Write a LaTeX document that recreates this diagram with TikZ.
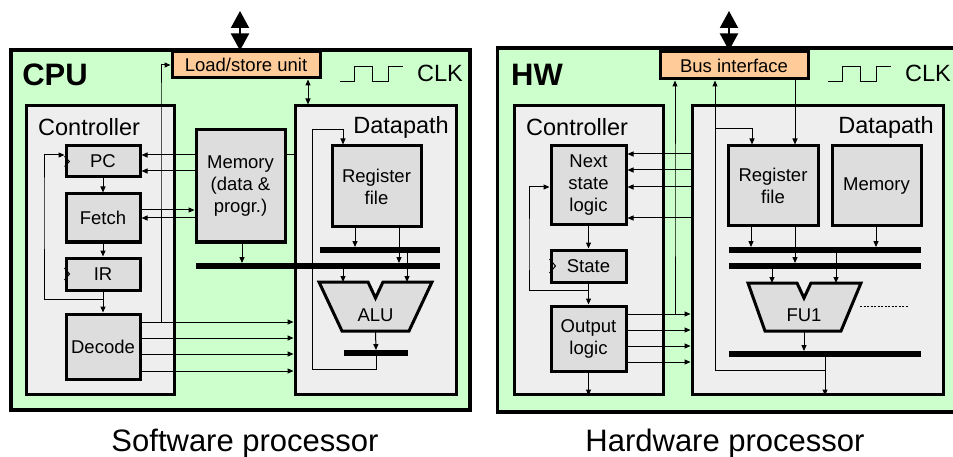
\documentclass[tikz,border=0pt]{standalone}
\usepackage{fontspec}
\setmainfont{Liberation Sans}
\usetikzlibrary{arrows.meta}
\definecolor{Mint}{HTML}{CCFFCC}
\definecolor{Panel}{HTML}{EEEEEE}
\definecolor{Block}{HTML}{DDDDDD}
\definecolor{Peach}{HTML}{FFCC99}

\begin{document}
\begin{tikzpicture}[x=1pt,y=-1pt,
wh/.style 2 args={minimum width=#1pt,minimum height=#2pt},
chip/.style={draw,line width=3.5pt,fill=Mint,inner sep=0},
part/.style={draw,line width=3pt,fill=Panel,inner sep=0},
blk/.style={draw,line width=3pt,fill=Block,align=center,inner sep=0,font=\fontsize{18.5}{22}\selectfont},
ifc/.style={draw,line width=3pt,fill=Peach,inner sep=0,font=\fontsize{18.5}{22}\selectfont},
bus/.style={fill=black,inner sep=0,minimum height=5.5pt},
hdr/.style={font=\fontsize{23.5}{26}\selectfont,inner sep=0},
chipname/.style={font=\bfseries\fontsize{31}{31}\selectfont,inner sep=0},
captext/.style={font=\fontsize{31}{31}\selectfont,inner sep=0,anchor=base},
fu/.style={draw,line width=3pt,fill=Block,line join=miter},
wire/.style={line width=1pt},
arr/.style={-{Triangle[length=6pt,width=5pt]},line width=1pt},
darr/.style={{Triangle[length=6pt,width=5pt]}-{Triangle[length=6pt,width=5pt]},line width=1pt},
ext/.style={{Triangle[length=17pt,width=18pt]}-{Triangle[length=17pt,width=18pt]},line width=2pt}]
\useasboundingbox (0,0) rectangle (953,457);

% ---- software processor
\node[chip,wh={459}{360}] (cpu) at (240.5,230) {};
\node[chipname] (cpuname) at (55,75) {CPU};
\node[ifc,wh={148}{26}] (lsu) at (246,65) {Load/store unit};
\node[hdr,anchor=west] (clk) at (417,73) {CLK};
\draw[wire] (340,82) -- ++(14,0) -- ++(0,-15) -- ++(18,0) -- ++(0,15) -- ++(16,0) -- ++(0,-15) -- ++(15,0);
\coordinate (cpuio) at (240,11);
\draw[ext] (cpuio) -- (lsu.north -| cpuio);

\node[part,wh={148}{288}] (ctrl) at (100,250) {};
\node[hdr,anchor=west] (ctrltitle) at (38,127) {Controller};
\node[part,wh={161}{288}] (dp) at (375.5,250) {};
\node[hdr,anchor=east] (dptitle) at (449,127) {Datapath};

\node[blk,wh={74}{31}] (pc) at (103,161.5) {PC};
\node[blk,wh={74}{48}] (fetch) at (103,218) {Fetch};
\node[blk,wh={74}{32}] (ir) at (103,274) {IR};
\node[blk,wh={74}{65}] (decode) at (103,346.5) {Decode};
\node[blk,wh={89}{81}] (rf) at (376.5,186.5) {Register\\file};
\draw[wire] (pc.west) ++(0,-5) -- ++(5,5) -- ++(-5,5);
\draw[wire] (ir.west) ++(0,-6) -- ++(5,6) -- ++(-5,6);

% pc input passes behind the memory
\draw[arr] (dp.west |- 0,155) -- (pc.east |- 0,155);
\node[blk,wh={89}{112}] (mem) at (240.5,186) {Memory\\(data \&\\progr.)};
\draw[arr] (mem.west |- 0,171) -- (pc.east |- 0,171);
\draw[arr] (fetch.east |- 0,210) -- (mem.west |- 0,210);
\draw[arr] (mem.west |- 0,218) -- (fetch.east |- 0,218);
\draw[arr] (pc) -- (fetch);
\draw[arr] (fetch) -- (ir);
\draw[arr] (ir) -- (decode);
\draw[arr] (ir.south) ++(0,8) -| (44,200) |- (pc.west |- 0,155);

\foreach \yy in {322,338,354,371}
  \draw[arr] (decode.east |- 0,\yy) -- (dp.west |- 0,\yy);
\draw[arr] (decode.east |- 0,322) -| (161,100) |- (lsu.west);
\draw[darr] (lsu.south -| 308,0) -- (dp.north -| 308,0);

\node[bus,minimum width=120pt] (busA) at (380,250) {};
\node[bus,minimum width=244pt] (busB) at (318,266) {};
\node[bus,minimum width=64pt] (busC) at (376,353) {};
\draw[fu] (319,282) -- (368,282) -- (375.5,298) -- (383,282) -- (432,282) -- (409,331) -- (342,331) -- cycle;
\node[blk,draw=none,fill=none] (alu) at (375.5,315) {ALU};
\coordinate (alutop) at (375.5,282);
\coordinate (alubot) at (375.5,331);

\draw[arr] (rf.south -| 355,0) -- (busA.north -| 355,0);
\draw[arr] (rf.south -| 399,0) -- (busB.north -| 399,0);
\draw[arr] (busA.south -| 407,0) -- (alutop -| 407,0);
\draw[arr] (busB.south -| 343,0) -- (alutop -| 343,0);
\draw[arr] (mem.south -| 242,0) -- (busB.north -| 242,0);
\draw[arr] (alubot) -- (busC.north);
\draw[arr] (busC.center) |- (312,369) |- (343,130) -- (rf.north -| 343,0);

% ---- hardware processor (open on the right, runs off the page)
\node[chip,draw=none,wh={470}{360}] (hw) at (734,230) {};
\draw[line width=3.5pt] (hw.north east) -| (hw.south west) -- (hw.south east);
\node[chipname] (hwname) at (537,75) {HW};
\node[ifc,wh={148}{27}] (bif) at (734,65.5) {Bus interface};
\node[hdr,anchor=west] (clk2) at (905,73) {CLK};
\draw[wire] (828,82) -- ++(14,0) -- ++(0,-15) -- ++(18,0) -- ++(0,15) -- ++(16,0) -- ++(0,-15) -- ++(15,0);
\coordinate (hwio) at (729,11);
\draw[ext] (hwio) -- (bif.north -| hwio);

\node[part,wh={149}{288}] (ctrl2) at (588.5,250) {};
\node[hdr,anchor=west] (ctrl2title) at (526,127) {Controller};
\node[part,wh={251}{288}] (dp2) at (817.5,250) {};
\node[hdr,anchor=east] (dp2title) at (934,127) {Datapath};

\node[blk,wh={75}{79}] (nsl) at (588.5,185.5) {Next\\state\\logic};
\node[blk,wh={75}{32}] (state) at (588.5,266) {State};
\node[blk,wh={75}{65}] (outl) at (588.5,338.5) {Output\\logic};
\node[blk,wh={90}{80}] (rf2) at (773,186) {Register\\file};
\node[blk,wh={89}{80}] (mem2) at (876.5,186) {Memory};
\draw[wire] (state.west) ++(0,-7) -- ++(6,7) -- ++(-6,7);

\node[bus,minimum width=192pt] (hbusA) at (825,250) {};
\node[bus,minimum width=192pt] (hbusB) at (825,266) {};
\node[bus,minimum width=192pt] (hbusC) at (825,354) {};
\draw[fu] (748,283) -- (797,283) -- (804,298) -- (811,283) -- (861,283) -- (841,331) -- (765,331) -- cycle;
\node[blk,draw=none,fill=none] (fu1) at (804,315) {FU1};
\coordinate (futop) at (804,283);
\coordinate (fubot) at (804,331);
\draw[line width=0.7pt,dash pattern=on 2pt off 1.5pt] (fu1.east -| 860,0) ++(0,-9) -- ++(48,0);

\draw[arr] (rf2.south -| 751,0) -- (hbusA.north -| 751,0);
\draw[arr] (rf2.south -| 795,0) -- (hbusB.north -| 795,0);
\draw[arr] (mem2.south -| 876,0) -- (hbusA.north -| 876,0);
\draw[arr] (hbusA.south -| 836,0) -- (futop -| 836,0);
\draw[arr] (hbusB.south -| 772,0) -- (futop -| 772,0);
\draw[arr] (fubot) -- (hbusC.north -| fubot);
\draw[arr] (hbusC.south -| 825,0) -- (dp2.south -| 825,0);
\draw[arr] (hbusC.center -| 825,0) |- (715,370) -- (bif.south -| 715,0);
\draw[arr] (715,129) -| (rf2.north -| 752,0);
\draw[arr] (bif.south -| 795,0) -- (rf2.north -| 795,0);

\foreach \yy in {154,170,187,218}
  \draw[arr] (dp2.west |- 0,\yy) -- (nsl.east |- 0,\yy);
\foreach \yy in {314,330,346,362}
  \draw[arr] (outl.east |- 0,\yy) -- (dp2.west |- 0,\yy);
\draw[arr] (outl.east |- 0,314) -| (675,200) -- (bif.south -| 675,0);
\draw[arr] (nsl) -- (state);
\draw[arr] (state) -- (outl);
\draw[arr] (state.south) ++(0,7) -| (529,250) |- (nsl.west |- 0,187);
\draw[arr] (outl.south) -- (ctrl2.south -| outl.south);

% ---- captions
\node[captext] (swcap) at (245,451) {Software processor};
\node[captext] (hwcap) at (725,451) {Hardware processor};
\end{tikzpicture}
\end{document}
